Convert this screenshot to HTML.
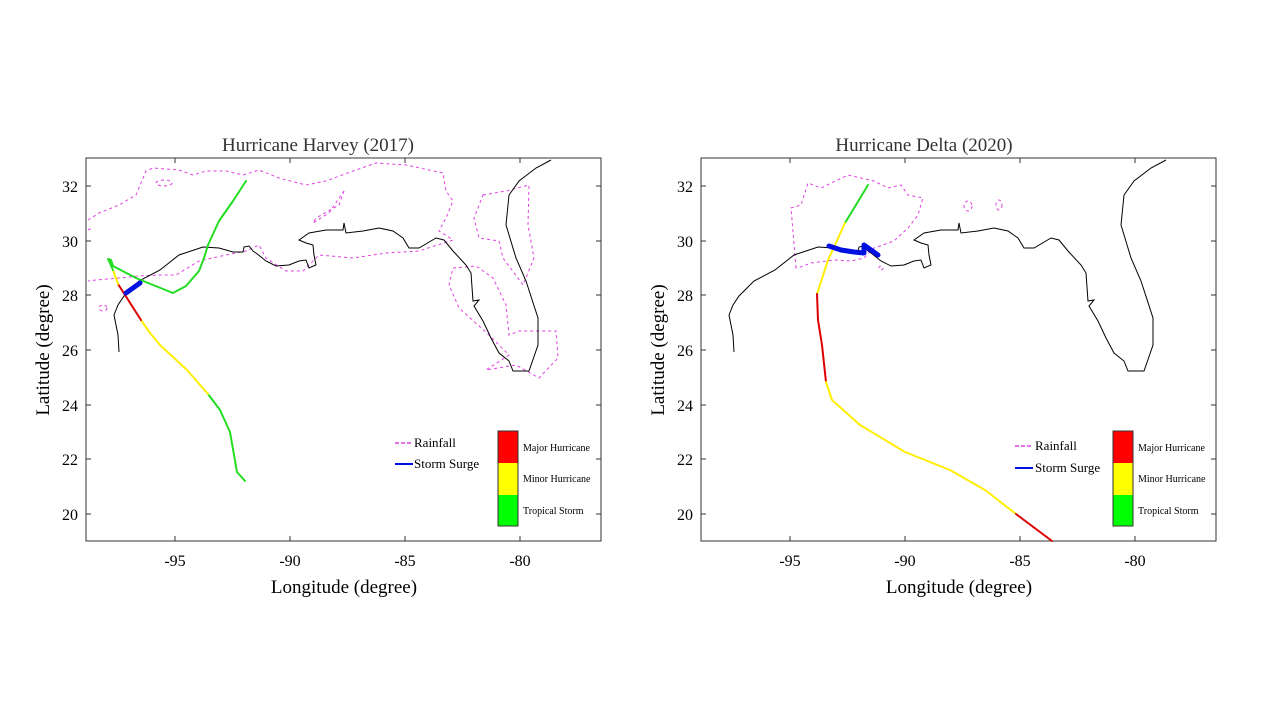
<!DOCTYPE html>
<html><head><meta charset="utf-8"><style>
html,body{margin:0;padding:0;background:#fff}
svg{display:block;font-family:"Liberation Serif",serif}
</style></head><body>
<svg width="1280" height="720" viewBox="0 0 1280 720" xmlns="http://www.w3.org/2000/svg">
<defs>
<path id="coast" fill="none" stroke="#000" stroke-width="1" d="M119,352 L118,335 L114,315 L118,305 L124,296 L139,281 L160,270 L179,255 L203,247 L219,248 L233,252 L243,252 L244,247 L249,246 L253,251 L256,253 L266,261 L276,266 L289,265 L299,261 L306,260 L309,268 L316,265 L314,255 L313,245 L306,243 L299,240 L309,233 L326,230 L343,230 L344,223 L346,233 L363,231 L379,228 L393,231 L403,238 L409,248 L419,248 L436,238 L444,240 L453,251 L466,265 L471,273 L473,301 L479,300 L474,306 L483,321 L491,338 L499,353 L509,361 L513,371 L529,371 L538,345 L538,318 L526,281 L516,258 L506,225 L509,195 L519,181 L536,168 L551,160"/>
</defs>

<!-- LEFT PLOT -->
<g>
<rect x="86" y="158" width="515" height="383" fill="none" stroke="#333" stroke-width="1"/>
<g stroke="#333" stroke-width="1">
<line x1="175" y1="541" x2="175" y2="536"/><line x1="290" y1="541" x2="290" y2="536"/><line x1="405" y1="541" x2="405" y2="536"/><line x1="520" y1="541" x2="520" y2="536"/>
<line x1="175" y1="158" x2="175" y2="163"/><line x1="290" y1="158" x2="290" y2="163"/><line x1="405" y1="158" x2="405" y2="163"/><line x1="520" y1="158" x2="520" y2="163"/>
<line x1="86" y1="186" x2="91" y2="186"/><line x1="86" y1="241" x2="91" y2="241"/><line x1="86" y1="295" x2="91" y2="295"/><line x1="86" y1="350" x2="91" y2="350"/><line x1="86" y1="405" x2="91" y2="405"/><line x1="86" y1="459" x2="91" y2="459"/><line x1="86" y1="514" x2="91" y2="514"/>
<line x1="601" y1="186" x2="596" y2="186"/><line x1="601" y1="241" x2="596" y2="241"/><line x1="601" y1="295" x2="596" y2="295"/><line x1="601" y1="350" x2="596" y2="350"/><line x1="601" y1="405" x2="596" y2="405"/><line x1="601" y1="459" x2="596" y2="459"/><line x1="601" y1="514" x2="596" y2="514"/>
</g>
<g font-size="16" fill="#000" text-anchor="middle">
<text x="175" y="566">-95</text><text x="290" y="566">-90</text><text x="405" y="566">-85</text><text x="520" y="566">-80</text>
</g>
<g font-size="16" fill="#000" text-anchor="end">
<text x="78" y="192">32</text><text x="78" y="247">30</text><text x="78" y="301">28</text><text x="78" y="356">26</text><text x="78" y="411">24</text><text x="78" y="465">22</text><text x="78" y="520">20</text>
</g>
<text x="344" y="593" font-size="19" text-anchor="middle">Longitude (degree)</text>
<text transform="translate(49,350) rotate(-90)" font-size="19" text-anchor="middle">Latitude (degree)</text>
<text x="318" y="151" font-size="19" text-anchor="middle" fill="#333">Hurricane Harvey (2017)</text>

<g fill="none" stroke="#e040e0" stroke-width="1" stroke-dasharray="3,3">
<path d="M88,220 L99,213 L119,205 L136,195 L146,171 L153,168 L179,170 L193,175 L206,171 L226,171 L243,175 L259,170 L279,178 L306,185 L326,181 L353,171 L376,163 L406,165 L443,173 L446,191 L453,201 L446,218 L439,231 L453,240 L419,251 L386,253 L353,258 L319,255 L303,271 L286,271 L266,258 L259,245 L246,251 L226,255 L199,261 L176,275 L159,275 L139,276 L119,278 L96,280 L88,281"/>
<path d="M483,195 L506,191 L529,185 L528,225 L534,258 L523,285 L503,258 L499,241 L479,238 L474,218 Z"/>
<path d="M453,268 L476,266 L493,278 L506,305 L509,335 L519,331 L556,331 L558,358 L539,378 L516,365 L486,370 L509,355 L489,335 L459,308 L449,285 Z"/>
<path d="M344,191 L339,205 L316,218 L313,223 L329,213 Z"/>
<ellipse cx="164" cy="183" rx="8" ry="3"/>
<ellipse cx="103" cy="308" rx="4" ry="3"/>
<path d="M88,230 L92,228"/>
</g>
<use href="#coast"/>

<g fill="none" stroke-width="2" stroke-linecap="round" stroke-linejoin="round">
<path stroke="#22dd22" d="M245,481 L237,472 L234,455 L230,432 L220,410 L208,394"/>
<path stroke="#ffee00" d="M208,394 L187,370 L160,345 L150,333 L141,320"/>
<path stroke="#dd0000" d="M141,320 L118,284"/>
<path stroke="#ffee00" d="M118,284 L113,270"/>
<path stroke="#22dd22" d="M113,270 L109,261 L108,259 L111,260 L113,266 L136,278 L153,285 L173,293 L186,286 L199,271 L204,258 L208,245 L219,221 L233,201 L246,181"/>
<path stroke="#0010e0" stroke-width="5" d="M126,293 L140,283"/>
</g>
<g font-size="13">
<line x1="395" y1="443" x2="413" y2="443" stroke="#e040e0" stroke-width="1.5" stroke-dasharray="4,2"/>
<text x="414" y="447">Rainfall</text>
<line x1="395" y1="464" x2="413" y2="464" stroke="#0010e0" stroke-width="2"/>
<text x="414" y="468">Storm Surge</text>
</g>
<rect x="498" y="431" width="20" height="32" fill="#ff0000"/>
<rect x="498" y="463" width="20" height="32" fill="#ffff00"/>
<rect x="498" y="495" width="20" height="31" fill="#00ff00"/>
<rect x="498" y="431" width="20" height="95" fill="none" stroke="#333" stroke-width="1"/>
<g font-size="10"><text x="523" y="451">Major Hurricane</text><text x="523" y="482">Minor Hurricane</text><text x="523" y="514">Tropical Storm</text></g>
</g>

<!-- RIGHT PLOT -->
<g>
<rect x="701" y="158" width="515" height="383" fill="none" stroke="#333" stroke-width="1"/>
<g stroke="#333" stroke-width="1">
<line x1="790" y1="541" x2="790" y2="536"/><line x1="905" y1="541" x2="905" y2="536"/><line x1="1020" y1="541" x2="1020" y2="536"/><line x1="1135" y1="541" x2="1135" y2="536"/>
<line x1="790" y1="158" x2="790" y2="163"/><line x1="905" y1="158" x2="905" y2="163"/><line x1="1020" y1="158" x2="1020" y2="163"/><line x1="1135" y1="158" x2="1135" y2="163"/>
<line x1="701" y1="186" x2="706" y2="186"/><line x1="701" y1="241" x2="706" y2="241"/><line x1="701" y1="295" x2="706" y2="295"/><line x1="701" y1="350" x2="706" y2="350"/><line x1="701" y1="405" x2="706" y2="405"/><line x1="701" y1="459" x2="706" y2="459"/><line x1="701" y1="514" x2="706" y2="514"/>
<line x1="1216" y1="186" x2="1211" y2="186"/><line x1="1216" y1="241" x2="1211" y2="241"/><line x1="1216" y1="295" x2="1211" y2="295"/><line x1="1216" y1="350" x2="1211" y2="350"/><line x1="1216" y1="405" x2="1211" y2="405"/><line x1="1216" y1="459" x2="1211" y2="459"/><line x1="1216" y1="514" x2="1211" y2="514"/>
</g>
<g font-size="16" fill="#000" text-anchor="middle">
<text x="790" y="566">-95</text><text x="905" y="566">-90</text><text x="1020" y="566">-85</text><text x="1135" y="566">-80</text>
</g>
<g font-size="16" fill="#000" text-anchor="end">
<text x="693" y="192">32</text><text x="693" y="247">30</text><text x="693" y="301">28</text><text x="693" y="356">26</text><text x="693" y="411">24</text><text x="693" y="465">22</text><text x="693" y="520">20</text>
</g>
<text x="959" y="593" font-size="19" text-anchor="middle">Longitude (degree)</text>
<text transform="translate(664,350) rotate(-90)" font-size="19" text-anchor="middle">Latitude (degree)</text>
<text x="924" y="151" font-size="19" text-anchor="middle" fill="#333">Hurricane Delta (2020)</text>

<g fill="none" stroke="#e040e0" stroke-width="1" stroke-dasharray="3,3">
<path d="M796,268 L791,208 L801,205 L808,183 L821,188 L848,175 L874,181 L888,188 L901,185 L908,195 L923,198 L918,215 L908,228 L894,241 L874,248 L864,258 L851,261 L834,260 L811,263 L798,268 Z"/>
<ellipse cx="968" cy="206" rx="4" ry="5"/>
<ellipse cx="999" cy="205" rx="3" ry="5"/>
<ellipse cx="881" cy="268" rx="2" ry="2"/>
</g>
<use href="#coast" transform="translate(615,0)"/>
<g fill="none" stroke-width="2" stroke-linecap="round" stroke-linejoin="round">
<path stroke="#22dd22" d="M868,185 L845,223"/>
<path stroke="#ffee00" d="M845,223 L835,245 L828,260 L820,285 L817,294"/>
<path stroke="#dd0000" d="M817,294 L818,320 L822,345 L826,382"/>
<path stroke="#ffee00" d="M826,382 L832,400 L860,425 L905,452 L950,470 L985,490 L1016,514"/>
<path stroke="#dd0000" d="M1016,514 L1052,541"/>
<path stroke="#0010e0" stroke-width="5" d="M829,246 L841,250 L854,252 L864,253 L864,245 L878,255"/>
</g>
<g font-size="13">
<line x1="1015" y1="446" x2="1033" y2="446" stroke="#e040e0" stroke-width="1.5" stroke-dasharray="4,2"/>
<text x="1035" y="450">Rainfall</text>
<line x1="1015" y1="468" x2="1033" y2="468" stroke="#0010e0" stroke-width="2"/>
<text x="1035" y="472">Storm Surge</text>
</g>
<rect x="1113" y="431" width="20" height="32" fill="#ff0000"/>
<rect x="1113" y="463" width="20" height="32" fill="#ffff00"/>
<rect x="1113" y="495" width="20" height="31" fill="#00ff00"/>
<rect x="1113" y="431" width="20" height="95" fill="none" stroke="#333" stroke-width="1"/>
<g font-size="10"><text x="1138" y="451">Major Hurricane</text><text x="1138" y="482">Minor Hurricane</text><text x="1138" y="514">Tropical Storm</text></g>
</g>
</svg>
</body></html>
